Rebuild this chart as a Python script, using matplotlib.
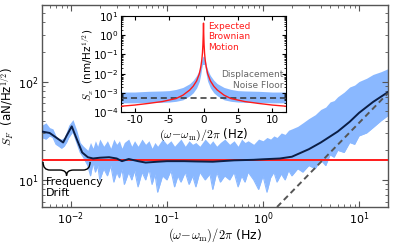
import matplotlib
matplotlib.use("Agg")
import matplotlib.pyplot as plt
import numpy as np
from matplotlib.path import Path
from matplotlib.patches import PathPatch
from matplotlib.ticker import LogLocator

# ---- main panel: force noise spectral density (aN/Hz^1/2) ----
band_f = [0.005, 0.0055, 0.006, 0.0065, 0.007, 0.0075, 0.008, 0.0085, 0.009, 0.0095,
          0.0105, 0.0115, 0.0125, 0.0135, 0.015, 0.016, 0.017, 0.018, 0.019, 0.02,
          0.022, 0.024, 0.026, 0.028, 0.03, 0.032, 0.034, 0.036, 0.04, 0.043, 0.046,
          0.05, 0.055, 0.06, 0.065, 0.07, 0.075, 0.08, 0.09, 0.1, 0.11, 0.12, 0.13,
          0.14, 0.155, 0.17, 0.185, 0.2, 0.22, 0.25, 0.28, 0.3, 0.33, 0.36, 0.4,
          0.45, 0.5, 0.55, 0.6, 0.65, 0.7, 0.8, 0.9, 1.0, 1.1, 1.2, 1.3, 1.4, 1.55,
          1.7, 1.85, 2.0, 2.3, 2.6, 3.0, 3.5, 4.0, 4.5, 5.0, 5.5, 6.0, 7.0, 8.0, 9.0,
          10.0, 12.0, 14.0, 17.0, 20.0]
band_lo = [27, 26, 28, 27, 23, 22, 21, 22, 24, 27,
           31, 24, 19, 17, 14, 11, 15, 12, 14, 10,
           13, 11, 14, 9.5, 12, 10.5, 13, 9, 12, 10, 12.5,
           8.5, 12, 10, 13, 9, 11.5, 7.5, 11, 10, 12.5, 8.5, 11,
           9.5, 12, 9, 11, 8.5, 12, 10, 11.5, 8, 12, 9.5, 11,
           10, 12, 8.5, 11, 9.5, 12, 10, 8, 11, 7.5, 10.5, 12, 9.5, 11.5,
           10, 12.5, 11, 13, 12, 14, 13, 16, 14, 18, 17, 20, 19, 24, 23,
           28, 30, 34, 40, 45]
band_hi = [36, 38, 34, 33, 28, 26, 26, 27, 31, 36,
           41, 32, 24, 22, 20, 24, 21, 25, 22, 26,
           22, 25, 21, 26, 23, 25, 21, 24, 26, 22, 25,
           22, 26, 23, 25, 21, 24, 22, 26, 23, 25, 22, 24,
           26, 22, 25, 23, 24, 22, 26, 23, 25, 22, 24, 26,
           23, 25, 22, 26, 24, 25, 23, 26, 25, 27, 26, 28, 27, 30,
           29, 32, 33, 35, 38, 42, 46, 52, 55, 62, 64, 70, 78, 88, 92,
           100, 108, 118, 126, 135]

smooth_f = [0.005, 0.006, 0.007, 0.0083, 0.009, 0.0102, 0.0115, 0.0131, 0.015, 0.017,
            0.02, 0.025, 0.03, 0.034, 0.04, 0.05, 0.06, 0.08, 0.1, 0.15, 0.2, 0.3,
            0.5, 0.8, 1.0, 1.5, 2.0, 3.0, 4.0, 6.0, 8.0, 10.0, 14.0, 20.0]
smooth_S = [31, 30, 27, 24, 28, 35, 26, 19, 17, 16.5,
            16.8, 17, 16.5, 15.5, 16.3, 15.5, 15, 15.3, 15.5, 15.5, 15.4, 15.3,
            15.8, 16, 16.2, 16.5, 17.2, 20.5, 24, 31, 39, 48, 62, 78]

brownian_force = 16.0          # expected thermal force level
floor_f = [1.4, 20.0]          # displacement noise floor referred to force
floor_S = [5.3, 76.0]

# ---- inset: displacement spectral density (nm/Hz^1/2) ----
offset_half = [12, 10, 8, 6, 5, 4, 3, 2, 1.5, 1.0, 0.6, 0.4, 0.25, 0.15, 0.08, 0.04, 0.015, 0.0]
red_half = [2.0e-4, 2.3e-4, 2.8e-4, 3.5e-4, 4.2e-4, 5.0e-4, 7.5e-4, 1.4e-3, 2.2e-3, 4.2e-3,
            1.0e-2, 2.2e-2, 5.0e-2, 0.12, 0.35, 1.0, 2.5, 4.3]
blue_hi_half = [1.1e-3, 1.1e-3, 1.2e-3, 1.25e-3, 1.3e-3, 1.5e-3, 1.9e-3, 3.0e-3, 4.5e-3, 8e-3,
                1.6e-2, 2.8e-2, 5e-2, 7e-2, 8e-2, 8e-2, 8e-2, 8e-2]
blue_lo_half = [3.0e-4, 3.0e-4, 3.1e-4, 3.2e-4, 3.3e-4, 3.6e-4, 4.3e-4, 7e-4, 1.0e-3, 1.8e-3,
                4e-3, 9e-3, 2e-2, 3e-2, 3e-2, 3e-2, 3e-2, 3e-2]
noise_floor_x = 5.2e-4

# mirror the half-spectra into full ones
offset = np.concatenate([-np.array(offset_half), np.array(offset_half[::-1])])
red_S = np.concatenate([red_half, red_half[::-1]])
blue_hi = np.concatenate([blue_hi_half, blue_hi_half[::-1]])
blue_lo = np.concatenate([blue_lo_half, blue_lo_half[::-1]])

plt.rcParams['font.family'] = ['DejaVu Sans']
plt.rcParams['mathtext.fontset'] = 'dejavusans'

light_blue = '#8ab8ff'
navy = '#0b1e45'
red = '#ff1a1a'
spine_gray = '#555555'

fig = plt.figure(figsize=(3.94, 2.44), dpi=100)
ax = fig.add_axes([0.1066, 0.1516, 0.878, 0.828])

ax.fill_between(band_f, band_lo, band_hi, color=light_blue, lw=0, zorder=1)
ax.plot(band_f, band_lo, color=light_blue, lw=0.8, zorder=1)
ax.axhline(brownian_force, color=red, lw=1.4, zorder=3)
ax.plot(smooth_f, smooth_S, color=navy, lw=1.4, zorder=4)
ax.plot(floor_f, floor_S, color='#555555', lw=1.4, ls=(0, (3, 2)), zorder=5)

ax.set_xscale('log')
ax.set_yscale('log')
ax.set_xlim(0.005, 20)
ax.set_ylim(5.3, 600)
ax.tick_params(which='both', direction='in', top=True, right=True, labelsize=8,
               color=spine_gray, pad=2.5)
ax.tick_params(which='major', length=4)
ax.tick_params(which='minor', length=2)
for sp in ax.spines.values():
    sp.set_color(spine_gray)
    sp.set_linewidth(1.0)
ax.set_ylabel(r'$S_F$  (aN/Hz$^{1/2}$)', fontsize=8.5)
ax.yaxis.label.set_math_fontfamily('cm')
ax.yaxis.set_label_coords(-0.072, 0.5)
ax.set_xlabel(r'$(\omega\!-\!\omega_\mathrm{m})/2\pi$ (Hz)', fontsize=9,
              math_fontfamily='cm')
ax.xaxis.set_label_coords(0.5, -0.094)

# curly brace marking the frequency drift region
x0, x1 = 0.003, 0.139
xm = 0.5 * (x0 + x1)
yt, ymid, yb = 0.223, 0.183, 0.155
verts = [(x0, yt), (x0, ymid), (x0 + 0.02, ymid),
         (xm - 0.02, ymid), (xm, ymid), (xm, yb),
         (xm, ymid), (xm + 0.02, ymid),
         (x1 - 0.02, ymid), (x1, ymid), (x1, yt)]
codes = [Path.MOVETO, Path.CURVE3, Path.CURVE3,
         Path.LINETO, Path.CURVE3, Path.CURVE3,
         Path.CURVE3, Path.CURVE3,
         Path.LINETO, Path.CURVE3, Path.CURVE3]
ax.add_patch(PathPatch(Path(verts, codes), transform=ax.transAxes, fill=False,
                       lw=1.0, color='black', zorder=6))
ax.text(0.012, 0.148, 'Frequency\nDrift', transform=ax.transAxes, fontsize=8,
        va='top', ha='left', linespacing=1.15, zorder=6)

# ---- inset ----
axin = fig.add_axes([0.307, 0.541, 0.419, 0.393])
axin.fill_between(offset, blue_lo, blue_hi, color=light_blue, lw=0, zorder=1)
axin.axhline(noise_floor_x, color='#333333', lw=1.1, ls=(0, (4, 2.5)), zorder=2)
axin.plot(offset, red_S, color=red, lw=1.0, zorder=3)
axin.set_yscale('log')
axin.set_xlim(-12, 12)
axin.set_ylim(1e-4, 1e1)
axin.yaxis.set_major_locator(LogLocator(base=10, numticks=10))
axin.yaxis.set_minor_locator(LogLocator(base=10, subs=np.arange(2, 10), numticks=10))
axin.set_xticks([-10, -5, 0, 5, 10])
axin.set_xticklabels(['-10', '-5', '0', '5', '10'])
axin.tick_params(which='both', direction='in', top=True, right=True, labelsize=7.5, pad=2)
axin.tick_params(which='major', length=3)
axin.tick_params(which='minor', length=1.5)
axin.set_ylabel(r'$S_x$  (nm/Hz$^{1/2}$)', fontsize=7.5)
axin.yaxis.label.set_math_fontfamily('cm')
axin.yaxis.set_label_coords(-0.158, 0.49)
axin.set_xlabel(r'$(\omega\!-\!\omega_\mathrm{m})/2\pi$ (Hz)', fontsize=8.5,
                math_fontfamily='cm')
axin.xaxis.set_label_coords(0.5, -0.156)
axin.text(0.7, 5.0, 'Expected\nBrownian\nMotion', color=red, fontsize=6.5,
          va='top', ha='left', linespacing=1.2)
axin.text(11.6, 1.5e-2, 'Displacement\nNoise Floor', color='#666666', fontsize=6.5,
          va='top', ha='right', linespacing=1.2)

fig.savefig('out.png', dpi=100)
